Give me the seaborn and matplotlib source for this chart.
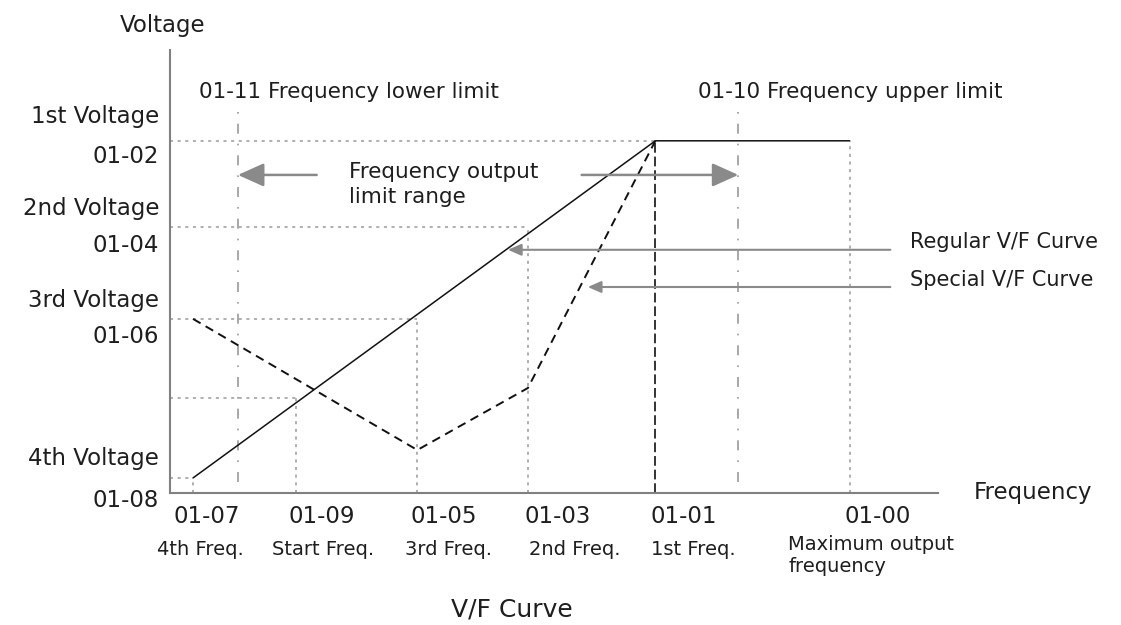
import numpy as np
import pandas as pd
import seaborn as sns
from matplotlib import pyplot as plt

# frequency points (arbitrary units, 0-100 along the axis)
f_4th, f_start, f_3rd, f_2nd, f_1st, f_max = 3.0, 16.4, 32.2, 46.6, 63.2, 88.5
f_lower, f_upper = 8.85, 74.0

# voltage levels (arbitrary units, 0-100 along the axis)
v_1st, v_2nd, v_3rd, v_start, v_4th = 79.5, 60.0, 39.3, 21.4, 3.4

regular_f = [f_4th, f_1st, f_max]
regular_v = [v_4th, v_1st, v_1st]
special_f = [f_4th, f_3rd, f_2nd, f_1st]
special_v = [v_3rd, 9.7, 23.7, v_1st]

freq_codes = ["01-07", "01-09", "01-05", "01-03", "01-01", "01-00"]
freq_names = ["4th Freq.", "Start Freq.", "3rd Freq.", "2nd Freq.", "1st Freq."]
volt_names = ["1st Voltage", "2nd Voltage", "3rd Voltage", "4th Voltage"]
volt_codes = ["01-02", "01-04", "01-06", "01-08"]

sns.set_style("white")
plt.rcParams['font.family'] = ['DejaVu Sans']
txt = '#1e1e1e'
dot = '#9a9a9a'
arr = '#8a8a8a'

fig = plt.figure(figsize=(11.21, 6.25), dpi=100)
ax = fig.add_axes([170/1121, 132/625, 768/1121, 443/625])
ax.set_xlim(0, 100)
ax.set_ylim(0, 100)
sns.despine(ax=ax)
for s in ['left', 'bottom']:
    ax.spines[s].set_color('#808080')
    ax.spines[s].set_linewidth(1.5)
ax.set_xticks([])
ax.set_yticks([])

# dotted guides
dkw = dict(color=dot, linestyle=(0, (2, 3)), linewidth=1.1)
ax.hlines([v_1st, v_2nd, v_3rd, v_start, v_4th], 0,
          [f_1st, f_2nd, f_3rd, f_start, f_4th], **dkw)
ax.vlines([f_2nd, f_3rd, f_start, f_4th, f_max], 0,
          [v_2nd, v_3rd, v_start, v_4th, v_1st], **dkw)
ax.vlines(f_1st, 0, v_1st, color='#333333', linestyle=(0, (5, 2)), linewidth=1.4)
# frequency limits (dash-dot)
ax.vlines([f_lower, f_upper], 2.4, 86.8, color=dot, linestyle=(0, (6, 6, 1, 6)), linewidth=1.2)

# curves
sns.lineplot(x=regular_f, y=regular_v, ax=ax, color='#111111', linewidth=1.1, sort=False)
sns.lineplot(x=special_f, y=special_v, ax=ax, color='#111111', linewidth=1.4,
             linestyle=(0, (4.5, 3)), sort=False)

# arrows
big = dict(arrowstyle='-|>,head_length=1.0,head_width=0.45', color=arr, lw=1.8,
           mutation_scale=16, shrinkA=0, shrinkB=0)
small = dict(arrowstyle='-|>,head_length=0.8,head_width=0.35', color=arr, lw=1.5,
             mutation_scale=10, shrinkA=0, shrinkB=0)
ax.annotate('', xy=(f_lower, 71.8), xytext=(19.1, 71.8), arrowprops=big)
ax.annotate('', xy=(f_upper, 71.8), xytext=(53.6, 71.8), arrowprops=big)
ax.annotate('', xy=(44.0, 54.9), xytext=(93.8, 54.9), arrowprops=small, annotation_clip=False)
ax.annotate('', xy=(54.4, 46.5), xytext=(93.8, 46.5), arrowprops=small, annotation_clip=False)

# texts
kw = dict(color=txt, clip_on=False)
ax.text(-1.0, 104.1, "Voltage", ha='center', va='baseline', fontsize=16.5, **kw)
ax.text(3.8, 89.2, "01-11 Frequency lower limit", ha='left', va='baseline', fontsize=15.5, **kw)
ax.text(68.75, 89.2, "01-10 Frequency upper limit", ha='left', va='baseline', fontsize=15.5, **kw)
ax.text(23.3, 71.1, "Frequency output", ha='left', va='baseline', fontsize=15.5, **kw)
ax.text(23.3, 65.5, "limit range", ha='left', va='baseline', fontsize=15.5, **kw)
ax.text(96.4, 56.7, "Regular V/F Curve", ha='left', va='center', fontsize=15, **kw)
ax.text(96.4, 48.1, "Special V/F Curve", ha='left', va='center', fontsize=15, **kw)
ax.text(104.6, 0, "Frequency", ha='left', va='center', fontsize=16.5, **kw)

name_y = [83.5, 62.8, 42.0, 6.3]
code_y = [74.5, 54.4, 33.9, -3.2]
for n, c, yn, yc in zip(volt_names, volt_codes, name_y, code_y):
    ax.text(-1.4, yn, n, ha='right', va='baseline', fontsize=16.5, **kw)
    ax.text(-1.4, yc, c, ha='right', va='baseline', fontsize=16.5, **kw)

code_x = [4.8, 19.7, 35.7, 50.5, 66.9, 92.2]
name_x = [3.9, 19.9, 36.2, 52.7, 68.1]
for c, xc in zip(freq_codes, code_x):
    ax.text(xc, -6.8, c, ha='center', va='baseline', fontsize=16.5, **kw)
for n, xn in zip(freq_names, name_x):
    ax.text(xn, -14.0, n, ha='center', va='baseline', fontsize=14, **kw)
ax.text(80.5, -12.9, "Maximum output", ha='left', va='baseline', fontsize=14, **kw)
ax.text(80.5, -17.9, "frequency", ha='left', va='baseline', fontsize=14, **kw)

ax.text(44.5, -27.8, "V/F Curve", ha='center', va='baseline', fontsize=18, **kw)

fig.savefig("out.png", dpi=100)
